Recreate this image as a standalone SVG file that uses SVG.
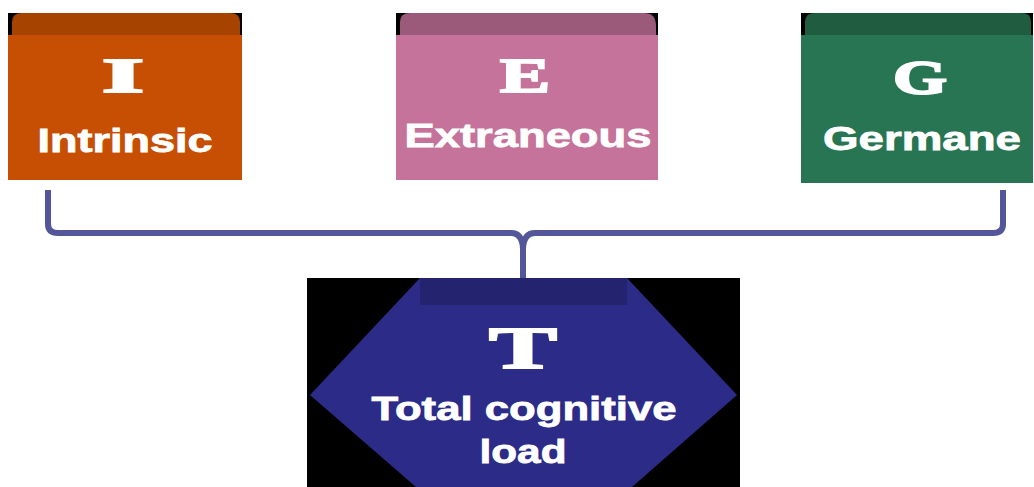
<svg xmlns="http://www.w3.org/2000/svg" width="1034" height="487" viewBox="0 0 1034 487">
<style>
.word{font-family:"Liberation Sans",Arial,sans-serif;font-weight:bold;fill:#fff;stroke:#fff;stroke-width:0.8;text-anchor:middle}
.init{font-family:"Liberation Serif","Times New Roman",serif;font-weight:bold;fill:#fff;stroke:#fff;stroke-width:2;text-anchor:middle}
.conn{fill:none;stroke:#54569a;stroke-width:6;stroke-linecap:butt;stroke-linejoin:round}
</style>
<rect width="1034" height="487" fill="#fff"/>
<g id="connectors">
<path class="conn" d="M48,190 V224 Q48,233 58,233 H511 Q522,233 523,248 V280"/>
<path class="conn" d="M1003,190 V224 Q1003,233 993,233 H535 Q524,233 523,248"/>
<path d="M520,250 L526,250 L525,280 L521,280 Z" fill="#54569a"/>
</g>
<g id="node-intrinsic">
<rect x="8" y="13" width="234" height="24" fill="#000"/>
<path d="M12,37 V22 Q12,13 22,13 H230 Q240,13 240,22 V37 Z" fill="#a74300"/>
<rect x="8" y="35" width="234" height="145" fill="#c64f04"/>
<text class="init" x="123" y="92" font-size="48" textLength="42" lengthAdjust="spacingAndGlyphs">I</text>
<text class="word" x="125" y="152" font-size="33" textLength="175" lengthAdjust="spacingAndGlyphs">Intrinsic</text>
</g>
<g id="node-extraneous">
<rect x="396" y="13" width="262" height="24" fill="#000"/>
<path d="M400,37 V22 Q400,13 410,13 H644 Q656,13 656,26 V37 Z" fill="#9c5a7a"/>
<rect x="396" y="35" width="262" height="145" fill="#c5739a"/>
<text class="init" x="525" y="92" font-size="48" textLength="50" lengthAdjust="spacingAndGlyphs">E</text>
<text class="word" x="528" y="147" font-size="33" textLength="247" lengthAdjust="spacingAndGlyphs">Extraneous</text>
</g>
<g id="node-germane">
<rect x="801" y="13" width="232" height="24" fill="#000"/>
<path d="M805,37 V22 Q805,13 815,13 H1022 Q1031,13 1031,22 V37 Z" fill="#1f5c40"/>
<rect x="801" y="35" width="232" height="148" fill="#277553"/>
<text class="init" x="920" y="94" font-size="48" textLength="54" lengthAdjust="spacingAndGlyphs">G</text>
<text class="word" x="922" y="150" font-size="33" textLength="198" lengthAdjust="spacingAndGlyphs">Germane</text>
</g>
<g id="node-total">
<rect x="307" y="278" width="433" height="209" fill="#000"/>
<polygon points="420,278 627,278 737,395 632,487 416,487 310,395" fill="#2c2c88"/>
<rect x="420" y="278" width="207" height="27" fill="#23236f"/>
<text class="init" x="523" y="368" font-size="60" textLength="68" lengthAdjust="spacingAndGlyphs">T</text>
<text class="word" x="524" y="420" font-size="34" textLength="305" lengthAdjust="spacingAndGlyphs">Total cognitive</text>
<text class="word" x="523" y="463" font-size="34" textLength="87" lengthAdjust="spacingAndGlyphs">load</text>
</g>
</svg>
